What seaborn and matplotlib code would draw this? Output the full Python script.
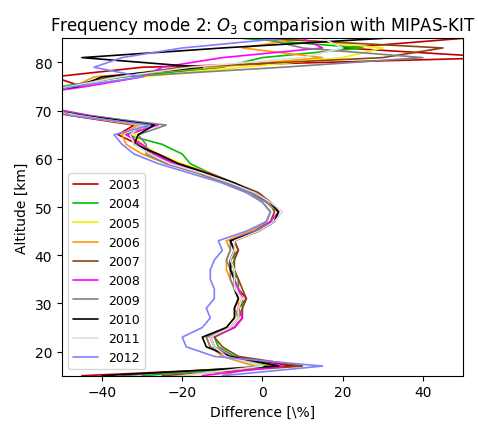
import numpy as np
import pandas as pd
import matplotlib.pyplot as plt
import seaborn as sns

sns.set_style("ticks", {"axes.edgecolor": "black", "text.color": "black",
                        "axes.labelcolor": "black", "xtick.color": "black",
                        "ytick.color": "black"})

altitude = [15, 17, 19, 21, 23, 25, 27, 29, 31, 33, 35, 37, 39, 41, 43, 45, 47, 49,
            51, 53, 55, 57, 59, 61, 63, 65, 67, 69, 71, 73, 75, 77, 79, 81, 83, 85]

years = ["2003", "2004", "2005", "2006", "2007", "2008", "2009", "2010", "2011", "2012"]

d2003 = [-45, 8, -9, -12, -13, -7, -5, -6, -4, -6, -7, -7, -8, -6, -7, -1, 3, 4,
         2, -2, -8, -15, -22, -28, -31, -36, -32, -48, -60, -65, -45, -52, -30, 60, 20, 50]
d2004 = [-30, 2, -7, -11, -12, -8, -6, -5, -5, -6, -6, -8, -7, -7, -8, -2, 1, 2,
         0, -3, -9, -13, -18, -20, -25, -34, -28, -46, -58, -62, -50, -35, -10, 0, 25, -5]
d2005 = [-20, 3, -8, -13, -14, -8, -6, -6, -5, -6, -7, -8, -8, -7, -8, -2, 2, 3,
         1, -2, -7, -13, -20, -26, -30, -32, -29, -44, -55, -58, -46, -30, -5, 20, 30, 5]
d2006 = [-10, -2, -10, -13, -14, -9, -7, -6, -6, -7, -8, -9, -9, -8, -9, -3, 1, 2,
         0, -4, -10, -16, -24, -30, -34, -35, -31, -47, -60, -63, -47, -42, -12, 15, -5, 10]
d2007 = [-25, 10, -6, -10, -12, -7, -5, -5, -4, -5, -6, -7, -7, -6, -7, -1, 2, 3,
         2, -1, -7, -13, -21, -27, -31, -33, -30, -45, -57, -60, -48, -38, -20, 30, 45, 0]
d2008 = [-15, 5, -8, -12, -13, -7, -5, -6, -5, -6, -7, -8, -8, -7, -8, -2, 2, 4,
         1, -2, -8, -14, -22, -27, -30, -34, -26, -43, -56, -61, -44, -30, -25, -10, 15, 10]
d2009 = [-35, 0, -9, -13, -14, -8, -6, -7, -6, -7, -8, -8, -9, -8, -8, -2, 3, 4,
         1, -3, -9, -16, -24, -29, -29, -31, -24, -44, -57, -62, -49, -35, 5, 40, 10, 0]
d2010 = [-40, 4, -8, -14, -15, -9, -7, -7, -6, -7, -7, -8, -8, -7, -8, -1, 3, 4,
         2, -2, -7, -14, -21, -26, -32, -31, -27, -45, -58, -63, -46, -40, -15, -45, -10, 30]
d2011 = [-20, 0, -9, -12, -13, -8, -6, -6, -5, -7, -7, -7, -8, -7, -7, -1, 3, 5,
         2, -2, -8, -15, -23, -28, -32, -33, -30, -46, -58, -62, -48, -36, -18, 10, 20, 15]
d2012 = [-10, 15, -12, -19, -20, -15, -13, -14, -12, -12, -13, -13, -12, -10, -11, -4, 1, 2,
         0, -4, -10, -18, -26, -32, -35, -37, -28, -48, -52, -59, -47, -30, -42, -35, -20, 5]

series = [d2003, d2004, d2005, d2006, d2007, d2008, d2009, d2010, d2011, d2012]
colors = ["#c00000", "#00c000", "#f0f000", "#ff9900", "#8b4513",
          "#ff00ff", "#808080", "#000000", "#dddddd", "#8080ff"]

rows = []
for y, vals in zip(years, series):
    for a, v in zip(altitude, vals):
        rows.append({"year": y, "altitude": a, "diff": v})
df = pd.DataFrame(rows)

fig, ax = plt.subplots(figsize=(4.78, 4.35), dpi=100)
sns.lineplot(data=df, x="diff", y="altitude", hue="year", palette=colors,
             sort=False, orient="y", estimator=None, linewidth=1.2, ax=ax)
ax.set_xlim(-50, 50)
ax.set_ylim(15, 85)
ax.set_xlabel("Difference [\\%]")
ax.set_ylabel("Altitude [km]")
ax.set_title("Frequency mode 2: $O_3$ comparision with MIPAS-KIT", fontsize=12)
ax.legend(loc="lower left", fontsize=9, title=None)
plt.tight_layout()
plt.savefig("out.png")
